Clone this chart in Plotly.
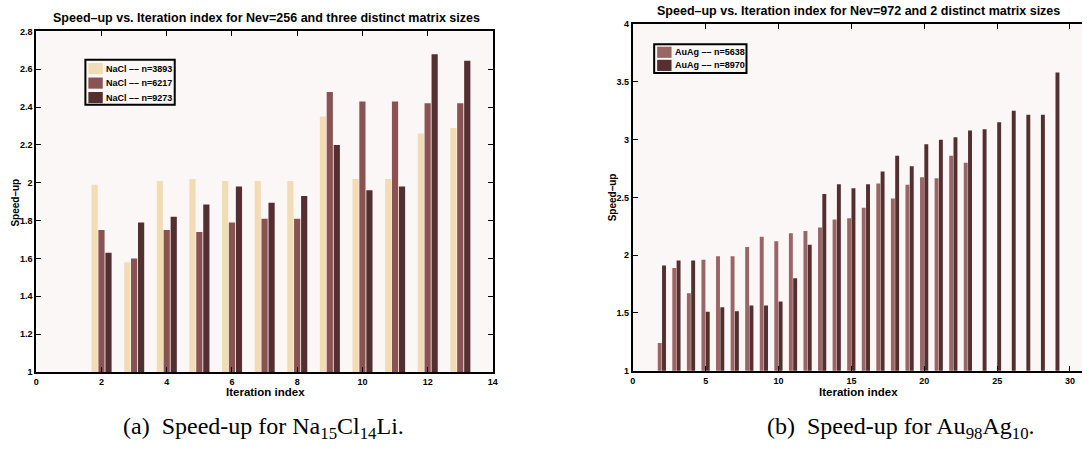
import plotly.graph_objects as go

# ---------------- data: left panel (NaCl, Nev=256) ----------------
iter_a = [2, 3, 4, 5, 6, 7, 8, 9, 10, 11, 12, 13]
nacl_3893 = [1.99, 1.58, 2.01, 2.02, 2.01, 2.01, 2.01, 2.35, 2.02, 2.02, 2.26, 2.29]
nacl_6217 = [1.75, 1.60, 1.75, 1.74, 1.79, 1.81, 1.81, 2.48, 2.43, 2.43, 2.42, 2.42]
nacl_9273 = [1.63, 1.79, 1.82, 1.885, 1.98, 1.895, 1.93, 2.20, 1.96, 1.98, 2.68, 2.645]
names_a = ["NaCl –– n=3893", "NaCl –– n=6217", "NaCl –– n=9273"]

# ---------------- data: right panel (AuAg, Nev=972) ----------------
iter_b = [2, 3, 4, 5, 6, 7, 8, 9, 10, 11, 12, 13, 14, 15, 16, 17, 18, 19, 20,
          21, 22, 23, 24, 25, 26, 27, 28, 29]
auag_5638 = [1.24, 1.89, 1.67, 1.96, 1.99, 1.99, 2.07, 2.16, 2.12, 2.19, 2.21,
             2.24, 2.31, 2.32, 2.41, 2.62, 2.49, 2.61, 2.675, 2.665, 2.86, 2.80,
             None, None, None, None, None, None]
auag_8970 = [1.91, 1.955, 1.955, 1.51, 1.55, 1.515, 1.565, 1.565, 1.60, 1.80,
             2.09, 2.53, 2.615, 2.58, 2.615, 2.725, 2.86, 2.77, 2.96, 3.00,
             3.02, 3.08, 3.09, 3.15, 3.25, 3.215, 3.215, 3.58]
names_b = ["AuAg –– n=5638", "AuAg –– n=8970"]

# tick labels
ya_vals = [1, 1.2, 1.4, 1.6, 1.8, 2, 2.2, 2.4, 2.6, 2.8]
ya_text = ["1", "1.2", "1.4", "1.6", "1.8", "2", "2.2", "2.4", "2.6", "2.8"]
xa_vals = [0, 2, 4, 6, 8, 10, 12, 14]
yb_vals = [1, 1.5, 2, 2.5, 3, 3.5, 4]
yb_text = ["1", "1.5", "2", "2.5", "3", "3.5", "4"]
xb_vals = [0, 5, 10, 15, 20, 25, 30]

colors_a = ["#F2DCB6", "#8A5353", "#532F30"]
colors_b = ["#9A6565", "#532F30"]

W, H = 1087, 470
BG = "#FBF7F6"
FONT = "Liberation Sans"

def px(x):
    return x / W

def py(y):
    return 1 - y / H

fig = go.Figure()

wa = 0.19
for vals, name, col, c in zip([nacl_3893, nacl_6217, nacl_9273], names_a, colors_a,
                              [-0.21, 0.0, 0.215]):
    fig.add_trace(go.Bar(x=iter_a, y=vals, name=name, marker_color=col,
                         marker_line_width=0, width=wa, offset=c - wa / 2,
                         xaxis="x", yaxis="y", showlegend=False))

wb = 0.27
for vals, name, col, c in zip([auag_5638, auag_8970], names_b, colors_b,
                              [-0.155, 0.14]):
    fig.add_trace(go.Bar(x=iter_b, y=vals, name=name, marker_color=col,
                         marker_line_width=0, width=wb, offset=c - wb / 2,
                         xaxis="x2", yaxis="y2", showlegend=False))

tickfont = dict(family=FONT, size=9, color="black", weight="bold")
axis_common = dict(showgrid=False, zeroline=False, showline=True, linecolor="black",
                   linewidth=2, ticks="inside", ticklen=5, tickcolor="black",
                   tickwidth=1, tickfont=tickfont)

fig.update_layout(
    width=W, height=H, margin=dict(l=0, r=0, t=0, b=0),
    paper_bgcolor="white", plot_bgcolor=BG, barmode="overlay",
    showlegend=False,
    xaxis=dict(domain=[px(33.5), px(493.5)], range=[0, 14], anchor="y",
               tickvals=xa_vals, mirror="ticks", **axis_common),
    yaxis=dict(domain=[py(375), py(27)], range=[1, 2.8], anchor="x",
               tickvals=ya_vals, ticktext=ya_text, mirror="ticks", **axis_common),
    xaxis2=dict(domain=[px(634.5), 1.0], range=[0, (W - 634.5) / 14.68], anchor="y2",
                tickvals=xb_vals, mirror="ticks", **axis_common),
    yaxis2=dict(domain=[py(373.7), py(19.5)], range=[1, 4], anchor="x2",
                tickvals=yb_vals, ticktext=yb_text, mirror=False, **axis_common),
)

def ann(text, x, y, size, family=FONT, angle=0, bold=True, xanchor="center"):
    fig.add_annotation(text=("<b>%s</b>" % text) if bold else text,
                       x=px(x), y=py(y), xref="paper", yref="paper",
                       showarrow=False, textangle=angle,
                       font=dict(family=family, size=size, color="black"),
                       xanchor=xanchor, yanchor="middle")

# legend boxes (drawn in paper space)
def legend_box(x0, y0, x1, y1, names, colors, swatch_x, first_y, step):
    fig.add_shape(type="rect", xref="paper", yref="paper",
                  x0=px(x0), x1=px(x1), y0=py(y1), y1=py(y0),
                  fillcolor=BG, line=dict(color="black", width=2))
    for i, (nm, col) in enumerate(zip(names, colors)):
        cy = first_y + i * step
        fig.add_shape(type="rect", xref="paper", yref="paper",
                      x0=px(swatch_x), x1=px(swatch_x + 14.5),
                      y0=py(cy + 5.7), y1=py(cy - 5.7),
                      fillcolor=col, line=dict(width=0))
        ann(nm, swatch_x + 15.5, cy, 9, xanchor="left")

legend_box(83, 56, 173, 102, names_a, colors_a, 86, 65, 14.8)
legend_box(656, 40, 749, 69.5, names_b, colors_b, 659, 48.3, 13.4)

ann("Speed–up vs. Iteration index for Nev=256 and three distinct matrix sizes", 265, 13, 12.5)
ann("Speed–up vs. Iteration index for Nev=972 and 2 distinct matrix sizes", 862, 6, 12.5)
ann("Speed–up", 13, 202, 10, angle=-90)
ann("Speed–up", 614, 196, 10, angle=-90)
ann("Iteration index", 264, 395, 11.5)
ann("Iteration index", 862, 395, 11.5)
ann("(a)  Speed-up for Na<sub>15</sub>Cl<sub>14</sub>Li.", 262, 432, 24,
    family="Liberation Serif", bold=False)
ann("(b)  Speed-up for Au<sub>98</sub>Ag<sub>10</sub>.", 905, 432, 24,
    family="Liberation Serif", bold=False)

fig.write_html("out.html", config={"displayModeBar": False},
               post_script="document.body.style.margin='0px';")
